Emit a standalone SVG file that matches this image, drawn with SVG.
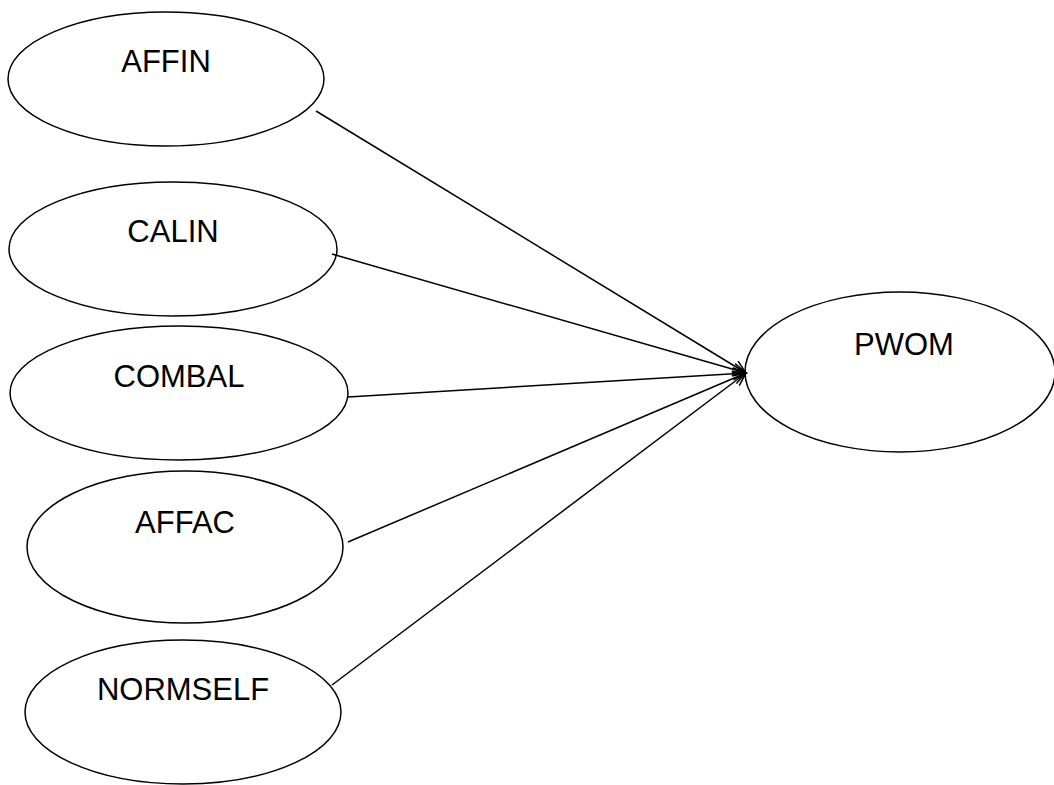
<svg xmlns="http://www.w3.org/2000/svg" width="1054" height="785" viewBox="0 0 1054 785">
<style>
.n ellipse{fill:#fff;stroke:#000;stroke-width:1.5}
.n text{font-family:"Liberation Sans",Arial,sans-serif;font-size:31px;text-anchor:middle;fill:#000}
.e line{stroke:#000;stroke-width:1.5;fill:none}
</style>
<defs>
<marker id="ah" markerWidth="16" markerHeight="14" refX="14" refY="7" orient="auto" markerUnits="userSpaceOnUse">
<path d="M1,1 L14,7 L1,13" fill="none" stroke="#000" stroke-width="1.5"/>
</marker>
</defs>
<rect width="1054" height="785" fill="#fff"/>
<g id="n-affin" class="n"><ellipse cx="166" cy="79" rx="158" ry="67"/><text x="166" y="72">AFFIN</text></g>
<g id="n-calin" class="n"><ellipse cx="173" cy="249" rx="164" ry="67"/><text x="173" y="242">CALIN</text></g>
<g id="n-combal" class="n"><ellipse cx="179" cy="393" rx="169" ry="67"/><text x="179" y="387">COMBAL</text></g>
<g id="n-affac" class="n"><ellipse cx="185" cy="547" rx="158" ry="76"/><text x="185" y="533">AFFAC</text></g>
<g id="n-normself" class="n"><ellipse cx="183" cy="712" rx="158" ry="72"/><text x="183" y="700">NORMSELF</text></g>
<g id="n-pwom" class="n"><ellipse cx="900" cy="372" rx="155" ry="80"/><text x="904" y="355">PWOM</text></g>
<g id="connectors" class="e">
<line x1="316" y1="111" x2="746" y2="373" marker-end="url(#ah)"/>
<line x1="332" y1="254" x2="746" y2="373" marker-end="url(#ah)"/>
<line x1="348" y1="397" x2="746" y2="373" marker-end="url(#ah)"/>
<line x1="348" y1="542" x2="746" y2="373" marker-end="url(#ah)"/>
<line x1="332" y1="685" x2="746" y2="373" marker-end="url(#ah)"/>
</g>
</svg>
